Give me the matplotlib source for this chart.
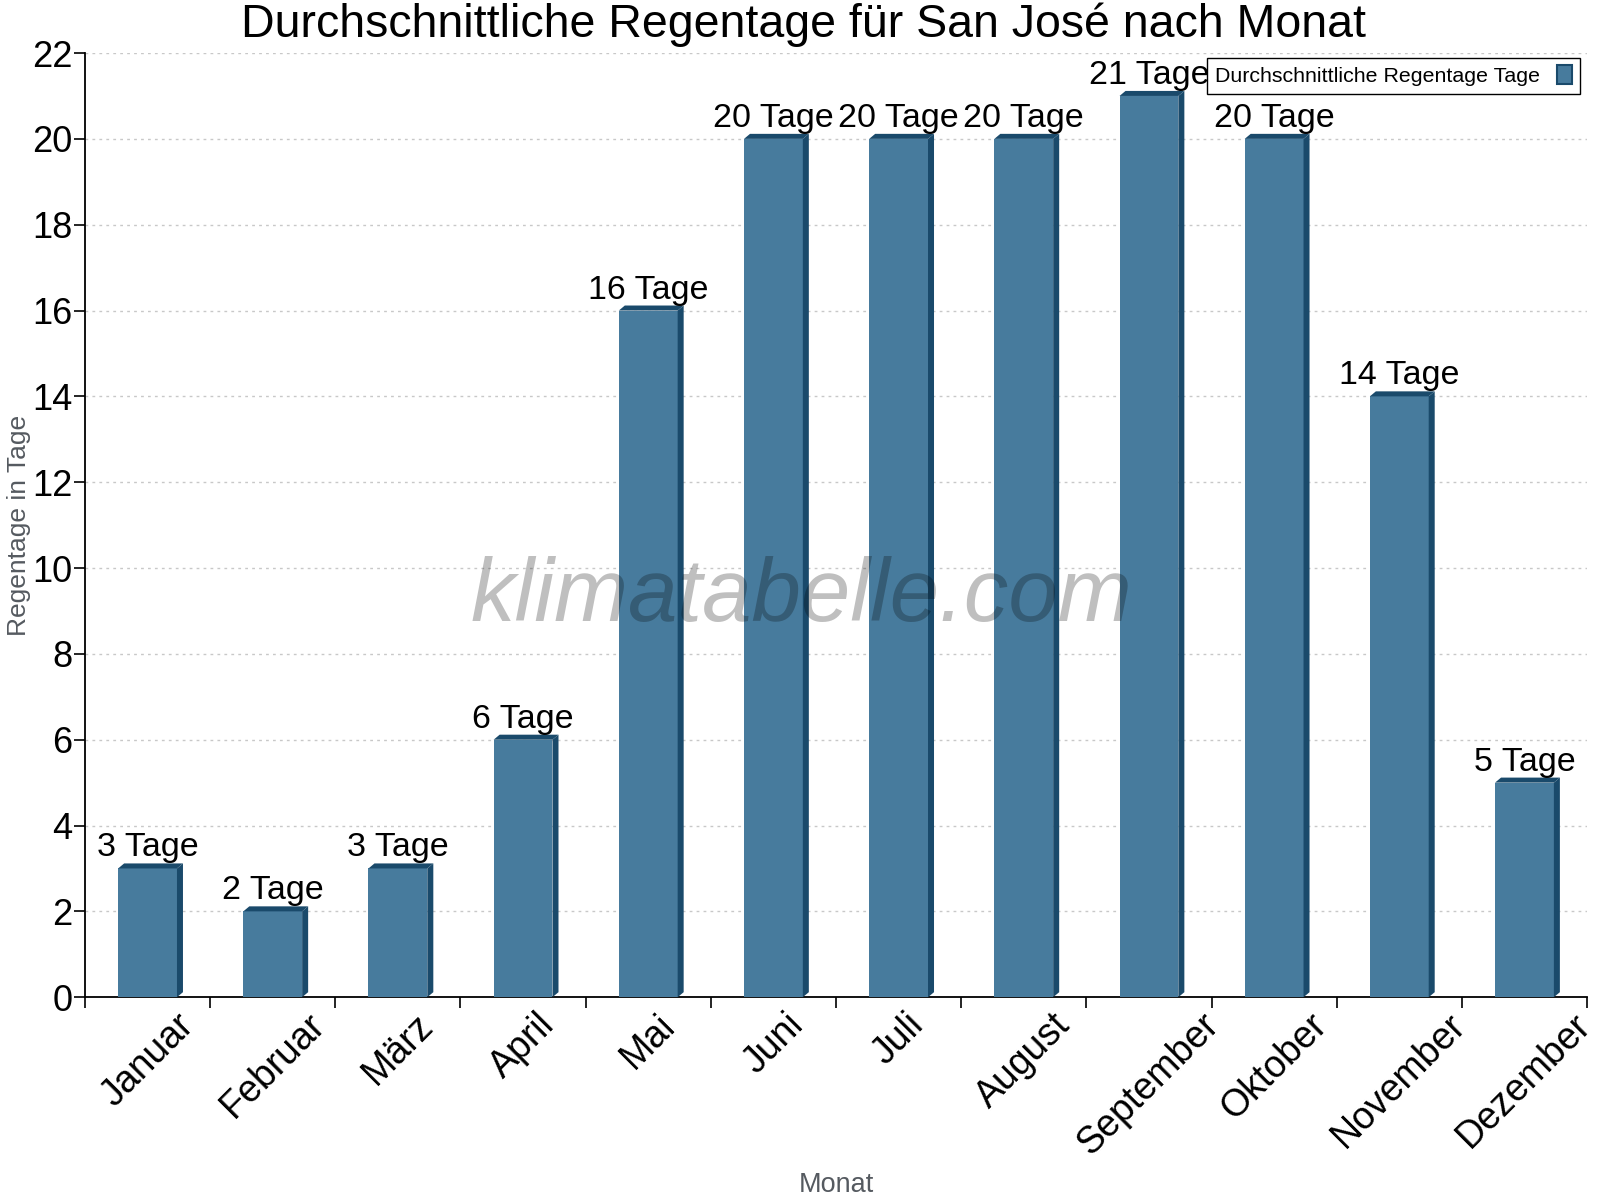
import numpy as np
import matplotlib
matplotlib.use("Agg")
import matplotlib.pyplot as plt
from matplotlib.patches import Polygon, Patch

plt.rcParams["font.family"] = ["Liberation Sans", "DejaVu Sans"]

# Data
months = ["Januar", "Februar", "März", "April", "Mai", "Juni", "Juli",
          "August", "September", "Oktober", "November", "Dezember"]
rain_days = [3, 2, 3, 6, 16, 20, 20, 20, 21, 20, 14, 5]
unit = "Tage"

front_color = "#477b9d"
dark_color = "#1a4a6b"

fig = plt.figure(figsize=(16, 12), dpi=100)
ax = fig.add_axes([0.0531, 0.169, 0.9388, 0.7868])

x = np.arange(len(months))
width = 0.47
# depth of the fake 3D effect, in data units
dx = 0.048
dy = 0.117

ax.bar(x, rain_days, width=width, color=front_color, zorder=3)
for xi, v in zip(x, rain_days):
    left, right = xi - width / 2, xi + width / 2
    side = Polygon([(right, 0), (right + dx, dy), (right + dx, v + dy), (right, v)],
                   closed=True, facecolor=dark_color, edgecolor="none", zorder=3)
    top = Polygon([(left, v), (left + dx, v + dy), (right + dx, v + dy), (right, v)],
                  closed=True, facecolor=dark_color, edgecolor="none", zorder=3)
    ax.add_patch(side)
    ax.add_patch(top)
    ax.text(xi, v + dy, f"{v} {unit}", ha="center", va="bottom",
            fontsize=24.5, color="black", zorder=5)

ax.set_xlim(-0.5, len(months) - 0.5)
ax.set_ylim(0, 22)
ax.set_yticks(np.arange(0, 23, 2))

# boundary ticks (major) and labels at the centres (minor)
ax.set_xticks(np.arange(-0.5, len(months), 1))
ax.set_xticklabels([])
ax.set_xticks(x, minor=True)
ax.set_xticklabels(months, minor=True, rotation=45, ha="center", va="top", fontsize=27)
ax.tick_params(axis="x", which="minor", length=0, pad=7)
ax.tick_params(axis="x", which="major", length=8, width=1.2)
ax.tick_params(axis="y", labelsize=26, length=8, width=1.2, pad=1)

ax.yaxis.grid(True, linestyle=(0, (2, 3)), color="#c8c8c8", linewidth=1, zorder=0)
ax.set_axisbelow(True)

for s in ["top", "right"]:
    ax.spines[s].set_visible(False)
for s in ["left", "bottom"]:
    ax.spines[s].set_linewidth(1.3)

ax.set_ylabel("Regentage in Tage", fontsize=19, color="#555a60")
ax.yaxis.set_label_coords(-0.036, 0.5)
fig.text(0.523, 0.002, "Monat", ha="center", va="bottom", fontsize=19.5, color="#555a60")

fig.text(0.502, 0.979, "Durchschnittliche Regentage für San José nach Monat",
         ha="center", va="center", fontsize=33.5)

ax.legend(handles=[Patch(facecolor=front_color, edgecolor=dark_color, linewidth=1.5)],
          labels=["Durchschnittliche Regentage Tage"], loc="upper right",
          bbox_to_anchor=(0.995, 0.995), borderaxespad=0, markerfirst=False,
          fontsize=15.4, fancybox=False, framealpha=1, edgecolor="black",
          handlelength=0.7, handleheight=1.0, borderpad=0.35)

fig.text(0.501, 0.502, "klimatabelle.com", ha="center", va="center",
         fontsize=64, style="italic", color="black", alpha=0.25, zorder=10)

fig.savefig("out.png", dpi=100)
